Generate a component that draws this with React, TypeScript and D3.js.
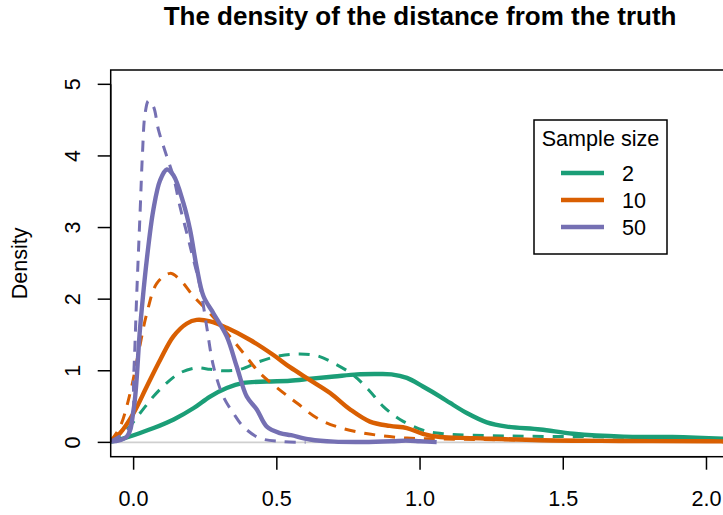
import React from "react";
import * as d3 from "d3";

// ---- data ----
const sampleSizes = ["2", "10", "50"];
const seriesColors = ["#1B9E77", "#D95F02", "#7570B3"];
const xTicks = [0, 0.5, 1, 1.5, 2];
const yTicks = [0, 1, 2, 3, 4, 5];

const n2Solid: [number, number][] = [
  [-0.08, 0.01], [-0.04, 0.05], [0, 0.1], [0.07, 0.2], [0.14, 0.32], [0.21, 0.48],
  [0.267, 0.64], [0.325, 0.76], [0.383, 0.83], [0.465, 0.85], [0.546, 0.86],
  [0.62, 0.89], [0.7, 0.92], [0.78, 0.95], [0.85, 0.955], [0.9, 0.95], [0.954, 0.9],
  [1.01, 0.78], [1.07, 0.64], [1.105, 0.55], [1.163, 0.41], [1.233, 0.28],
  [1.303, 0.22], [1.42, 0.18], [1.535, 0.12], [1.71, 0.08], [1.88, 0.075],
  [2.06, 0.05], [2.15, 0.03],
];
const n2Dashed: [number, number][] = [
  [-0.08, 0.02], [-0.024, 0.18], [0.023, 0.41], [0.069, 0.64], [0.116, 0.83],
  [0.162, 0.97], [0.22, 1.04], [0.267, 1.02], [0.313, 1.0], [0.372, 1.02],
  [0.44, 1.13], [0.511, 1.21], [0.58, 1.235], [0.64, 1.21], [0.697, 1.11],
  [0.767, 0.94], [0.82, 0.735], [0.872, 0.5], [0.93, 0.32], [1.01, 0.17],
  [1.08, 0.12], [1.3, 0.09], [1.535, 0.08], [1.77, 0.07], [2.0, 0.05], [2.15, 0.03],
];
const n10Solid: [number, number][] = [
  [-0.08, 0.02], [-0.047, 0.13], [0, 0.41], [0.046, 0.78], [0.0925, 1.15],
  [0.139, 1.48], [0.186, 1.66], [0.22, 1.71], [0.267, 1.69], [0.325, 1.6],
  [0.407, 1.43], [0.488, 1.22], [0.546, 1.05], [0.616, 0.87], [0.686, 0.69],
  [0.756, 0.46], [0.825, 0.29], [0.895, 0.23], [0.954, 0.2], [1.01, 0.12],
  [1.07, 0.075], [1.185, 0.06], [1.42, 0.03], [1.7, 0.02], [2.0, 0.015], [2.15, 0.01],
];
const n10Dashed: [number, number][] = [
  [-0.08, 0.02], [-0.047, 0.22], [-0.012, 0.69], [0.017, 1.25], [0.046, 1.8],
  [0.081, 2.22], [0.127, 2.36], [0.162, 2.27], [0.209, 2.04], [0.267, 1.8],
  [0.325, 1.53], [0.383, 1.25], [0.44, 0.97], [0.511, 0.73], [0.57, 0.55],
  [0.64, 0.34], [0.709, 0.22], [0.79, 0.14], [0.872, 0.09], [0.954, 0.06],
  [1.03, 0.05], [1.2, 0.04], [1.5, 0.03], [2.0, 0.02], [2.15, 0.01],
];
const n50Solid: [number, number][] = [
  [-0.082, 0.01], [-0.024, 0.08], [0, 0.46], [0.023, 1.62], [0.046, 2.55],
  [0.069, 3.25], [0.0925, 3.66], [0.116, 3.81], [0.139, 3.73], [0.174, 3.34],
  [0.197, 2.97], [0.22, 2.45], [0.244, 2.04], [0.279, 1.8], [0.325, 1.48],
  [0.36, 1.06], [0.395, 0.64], [0.43, 0.46], [0.465, 0.22], [0.511, 0.13],
  [0.55, 0.1], [0.616, 0.04], [0.7, 0.01], [0.8, 0.005], [0.9, 0.015],
  [0.95, 0.025], [1.0, 0.015], [1.058, 0.003],
];
const n50Dashed: [number, number][] = [
  [-0.08, 0.02], [-0.012, 0.22], [0, 0.92], [0.011, 2.08], [0.023, 3.25],
  [0.031, 4.04], [0.04, 4.59], [0.052, 4.77], [0.069, 4.69], [0.087, 4.36],
  [0.116, 3.99], [0.139, 3.71], [0.162, 3.29], [0.186, 2.92], [0.209, 2.55],
  [0.232, 2.18], [0.255, 1.62], [0.279, 1.06], [0.313, 0.64], [0.348, 0.41],
  [0.383, 0.22], [0.44, 0.06], [0.523, 0.01], [0.6, 0.0],
];

const solidSeries = [n2Solid, n10Solid, n50Solid];
const dashedSeries = [n2Dashed, n10Dashed, n50Dashed];

export default function App() {
  const W = 723;
  const H = 515;
  const left = 110.7, right = 729.4, top = 70, bottom = 456.7;
  const x = d3.scaleLinear().domain([-0.08, 2.08]).range([left, right]);
  const y = d3.scaleLinear().domain([-0.2, 5.2]).range([bottom, top]);
  const line = d3
    .line<[number, number]>()
    .x((d) => x(d[0]))
    .y((d) => y(Math.max(0, d[1])))
    .curve(d3.curveCatmullRom.alpha(0.5));
  const font = "'Liberation Sans', Arial, Helvetica, sans-serif";
  const fs = 21.6;

  const order = [0, 1, 2];

  return (
    <svg
      width={W}
      height={H}
      style={{ position: "absolute", left: 0, top: 0, background: "#fff" }}
      fontFamily={font}
    >
      <defs>
        <clipPath id="plotclip">
          <rect x={left} y={top} width={right - left} height={bottom - top} />
        </clipPath>
      </defs>
      <rect x={0} y={0} width={W} height={H} fill="#fff" />
      <text x={(left + right) / 2} y={25} textAnchor="middle" fontSize={26} fontWeight="bold">
        The density of the distance from the truth
      </text>

      {/* zero line */}
      <line x1={left} x2={right} y1={y(0)} y2={y(0)} stroke="#cfcfcf" strokeWidth={1.6} />

      <g clipPath="url(#plotclip)" fill="none" strokeLinejoin="round" strokeLinecap="butt">
        {order.map((i) => (
          <g key={i}>
            <path d={line(solidSeries[i]) || ""} stroke={seriesColors[i]} strokeWidth={4.4} />
            <path
              d={line(dashedSeries[i]) || ""}
              stroke={seriesColors[i]}
              strokeWidth={3}
              strokeDasharray="11 9"
            />
          </g>
        ))}
      </g>

      {/* box */}
      <rect x={left} y={top} width={right - left} height={bottom - top} fill="none" stroke="#000" strokeWidth={1.5} />

      {/* x axis */}
      <g>
        <line x1={x(xTicks[0])} x2={x(xTicks[xTicks.length - 1])} y1={bottom} y2={bottom} stroke="#000" strokeWidth={1.5} />
        {xTicks.map((t) => (
          <g key={t}>
            <line x1={x(t)} x2={x(t)} y1={bottom} y2={bottom + 13} stroke="#000" strokeWidth={1.5} />
            <text x={x(t)} y={506} textAnchor="middle" fontSize={fs}>
              {d3.format(".1f")(t)}
            </text>
          </g>
        ))}
      </g>

      {/* y axis */}
      <g>
        <line x1={left} x2={left} y1={y(yTicks[0])} y2={y(yTicks[yTicks.length - 1])} stroke="#000" strokeWidth={1.5} />
        {yTicks.map((t) => (
          <g key={t}>
            <line x1={left - 13} x2={left} y1={y(t)} y2={y(t)} stroke="#000" strokeWidth={1.5} />
            <text
              transform={`translate(80,${y(t)}) rotate(-90)`}
              textAnchor="middle"
              fontSize={fs}
            >
              {t}
            </text>
          </g>
        ))}
      </g>
      <text transform={`translate(27,${(top + bottom) / 2}) rotate(-90)`} textAnchor="middle" fontSize={fs}>
        Density
      </text>

      {/* legend */}
      <g>
        <rect x={534} y={120} width={133} height={134} fill="#fff" stroke="#000" strokeWidth={1.5} />
        <text x={600.5} y={146} textAnchor="middle" fontSize={fs}>
          Sample size
        </text>
        {sampleSizes.map((s, i) => (
          <g key={s}>
            <line
              x1={561}
              x2={604}
              y1={173 + i * 27}
              y2={173 + i * 27}
              stroke={seriesColors[i]}
              strokeWidth={4.4}
            />
            <text x={622} y={181 + i * 27} fontSize={fs}>
              {s}
            </text>
          </g>
        ))}
      </g>
    </svg>
  );
}
